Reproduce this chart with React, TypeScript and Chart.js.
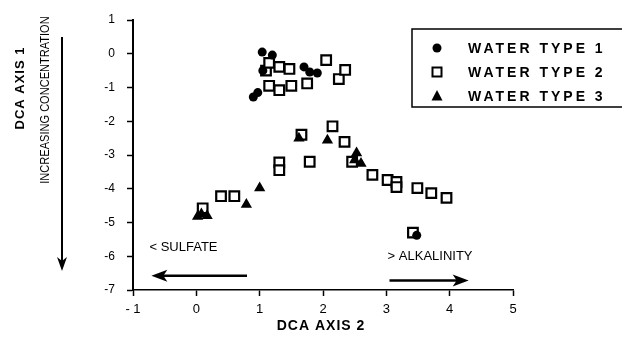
import React, { useEffect, useRef } from 'react';
import { Chart, registerables } from 'chart.js';
Chart.register(...registerables);

const FONT = '"Liberation Sans", Arial, sans-serif';

const seriesNames = ['WATER TYPE 1', 'WATER TYPE 2', 'WATER TYPE 3'];

const type1X = [1.04, 1.2, 1.05, 1.7, 1.79, 1.91, 0.97, 0.9, 3.48];
const type1Y = [0.05, -0.04, -0.5, -0.39, -0.54, -0.57, -1.15, -1.28, -5.38];

const type2X = [1.1, 1.15, 1.31, 1.47, 1.15, 1.31, 1.5, 1.75, 2.05, 2.25, 2.35,
  1.66, 2.15, 2.34, 1.79, 1.31, 1.31, 2.46, 2.78, 3.02, 3.16, 3.16, 3.49, 3.71, 3.95, 3.42,
  0.39, 0.6, 0.1];
const type2Y = [-0.5, -0.27, -0.39, -0.45, -0.95, -1.08, -0.95, -0.88, -0.19, -0.75, -0.48,
  -2.4, -2.15, -2.61, -3.2, -3.22, -3.45, -3.2, -3.59, -3.74, -3.8, -3.95, -3.98, -4.13, -4.27, -5.3,
  -4.22, -4.22, -4.58];

const type3X = [1.62, 2.07, 2.53, 2.6, 2.5, 1.0, 0.79, 0.02, 0.17, 0.08];
const type3Y = [-2.5, -2.56, -2.94, -3.25, -3.15, -3.98, -4.47, -4.82, -4.8, -4.75];

const xTicks = [-1, 0, 1, 2, 3, 4, 5];
const yTicks = [1, 0, -1, -2, -3, -4, -5, -6, -7];

const xTitle = 'DCA AXIS 2';
const yTitle = 'DCA AXIS 1';
const ySubTitle = 'INCREASING CONCENTRATION';
const leftNote = '< SULFATE';
const rightNote = '> ALKALINITY';

const toPts = (xs: number[], ys: number[]) => xs.map((x, i) => ({ x, y: ys[i] }));

function arrowHead(ctx: CanvasRenderingContext2D, tx: number, ty: number, dir: 'left' | 'right' | 'down') {
  ctx.beginPath();
  if (dir === 'left') {
    ctx.moveTo(tx, ty); ctx.lineTo(tx + 16, ty - 6); ctx.lineTo(tx + 12, ty); ctx.lineTo(tx + 16, ty + 6);
  } else if (dir === 'right') {
    ctx.moveTo(tx, ty); ctx.lineTo(tx - 16, ty - 6); ctx.lineTo(tx - 12, ty); ctx.lineTo(tx - 16, ty + 6);
  } else {
    ctx.moveTo(tx, ty); ctx.lineTo(tx - 5, ty - 14); ctx.lineTo(tx, ty - 10); ctx.lineTo(tx + 5, ty - 14);
  }
  ctx.closePath();
  ctx.fill();
}

const decorPlugin = {
  id: 'decor',
  afterDraw(chart: any) {
    const ctx: CanvasRenderingContext2D = chart.ctx;
    const xs = chart.scales.x;
    const ys = chart.scales.y;
    ctx.save();
    ctx.fillStyle = '#000';
    ctx.strokeStyle = '#000';

    // x title
    ctx.font = `bold 14px ${FONT}`;
    (ctx as any).letterSpacing = '1px';
    ctx.textAlign = 'center';
    ctx.textBaseline = 'middle';
    ctx.fillText(xTitle, (xs.left + xs.right) / 2 - 2, 326);

    // y title
    ctx.save();
    ctx.font = `bold 13px ${FONT}`;
    ctx.translate(20, 88);
    ctx.rotate(-Math.PI / 2);
    ctx.fillText(yTitle, 0, 0);
    ctx.restore();

    // y subtitle
    ctx.save();
    ctx.font = `13px ${FONT}`;
    (ctx as any).letterSpacing = '0px';
    ctx.translate(45, 100);
    ctx.rotate(-Math.PI / 2);
    ctx.scale(0.85, 1);
    ctx.fillText(ySubTitle, 0, 0);
    ctx.restore();

    // vertical arrow
    ctx.lineWidth = 2;
    ctx.beginPath();
    ctx.moveTo(62, 37);
    ctx.lineTo(62, 262);
    ctx.stroke();
    arrowHead(ctx, 62, 271, 'down');

    // notes
    ctx.font = `13px ${FONT}`;
    (ctx as any).letterSpacing = '0px';
    ctx.textAlign = 'left';
    ctx.fillText(leftNote, xs.getPixelForValue(-0.74), ys.getPixelForValue(-5.75));
    ctx.fillText(rightNote, xs.getPixelForValue(3.02), ys.getPixelForValue(-6.0));

    // horizontal arrows
    const ly = ys.getPixelForValue(-6.58);
    ctx.lineWidth = 2.5;
    ctx.beginPath();
    ctx.moveTo(xs.getPixelForValue(-0.6), ly);
    ctx.lineTo(xs.getPixelForValue(0.8), ly);
    ctx.stroke();
    arrowHead(ctx, xs.getPixelForValue(-0.71), ly, 'left');

    const ry = ys.getPixelForValue(-6.72);
    ctx.beginPath();
    ctx.moveTo(xs.getPixelForValue(3.05), ry);
    ctx.lineTo(xs.getPixelForValue(4.15), ry);
    ctx.stroke();
    arrowHead(ctx, xs.getPixelForValue(4.3), ry, 'right');

    // legend box
    ctx.lineWidth = 1.5;
    ctx.strokeRect(412, 29, 240, 78);
    const rows = [48, 72, 96];
    const mx = 437;
    ctx.beginPath();
    ctx.arc(mx, rows[0], 4.5, 0, Math.PI * 2);
    ctx.fill();
    ctx.lineWidth = 2;
    ctx.strokeRect(mx - 4.5, rows[1] - 4.5, 9, 9);
    ctx.beginPath();
    ctx.moveTo(mx, rows[2] - 6);
    ctx.lineTo(mx + 5.5, rows[2] + 4.5);
    ctx.lineTo(mx - 5.5, rows[2] + 4.5);
    ctx.closePath();
    ctx.fill();

    ctx.font = `bold 14px ${FONT}`;
    (ctx as any).letterSpacing = '3px';
    ctx.textAlign = 'left';
    ctx.textBaseline = 'middle';
    seriesNames.forEach((n, i) => ctx.fillText(n, 468, rows[i] + 1));
    ctx.restore();
  },
};

export default function App() {
  const ref = useRef<HTMLCanvasElement>(null);
  useEffect(() => {
    if (!ref.current) return;
    const chart = new Chart(ref.current, {
      type: 'scatter',
      data: {
        datasets: [
          {
            label: seriesNames[0],
            data: toPts(type1X, type1Y),
            pointStyle: 'circle',
            pointRadius: 4.5,
            backgroundColor: '#000',
            borderColor: '#000',
            borderWidth: 0,
            order: 0,
          },
          {
            label: seriesNames[1],
            data: toPts(type2X, type2Y),
            pointStyle: 'rect',
            pointRadius: 6.8,
            backgroundColor: '#fff',
            borderColor: '#000',
            borderWidth: 2.2,
            order: 2,
          },
          {
            label: seriesNames[2],
            data: toPts(type3X, type3Y),
            pointStyle: 'triangle',
            pointRadius: 6.5,
            backgroundColor: '#000',
            borderColor: '#000',
            borderWidth: 0,
            order: 1,
          },
        ],
      },
      options: {
        responsive: false,
        animation: false,
        devicePixelRatio: 1,
        layout: { padding: { left: 0, top: 20, right: 109, bottom: 0 } },
        plugins: { legend: { display: false }, tooltip: { enabled: false } },
        scales: {
          x: {
            type: 'linear',
            min: -1,
            max: 5,
            afterFit: (s: any) => { s.height = 47; },
            afterBuildTicks: (s: any) => { s.ticks = xTicks.map((v) => ({ value: v })); },
            ticks: {
              color: '#000',
              font: { family: FONT, size: 13 },
              padding: 6,
              callback: (v: any) => (v === -1 ? '- 1' : String(v)),
            },
            grid: { drawOnChartArea: false, drawTicks: true, tickLength: 6, tickWidth: 1.5, color: '#000' },
            border: { display: true, color: '#000', width: 1.5 },
          },
          y: {
            type: 'linear',
            min: -7,
            max: 1,
            afterFit: (s: any) => { s.width = 133; },
            afterBuildTicks: (s: any) => { s.ticks = yTicks.map((v) => ({ value: v })); },
            ticks: {
              color: '#000',
              font: { family: FONT, size: 12 },
              padding: 12,
            },
            grid: { drawOnChartArea: false, drawTicks: true, tickLength: 6, tickWidth: 1.5, color: '#000' },
            border: { display: true, color: '#000', width: 2 },
          },
        },
      },
      plugins: [decorPlugin],
    });
    return () => chart.destroy();
  }, []);
  return (
    <div style={{ position: 'fixed', left: 0, top: 0, width: 622, height: 337, background: '#fff' }}>
      <canvas ref={ref} width={622} height={337} style={{ width: 622, height: 337 }} />
    </div>
  );
}
